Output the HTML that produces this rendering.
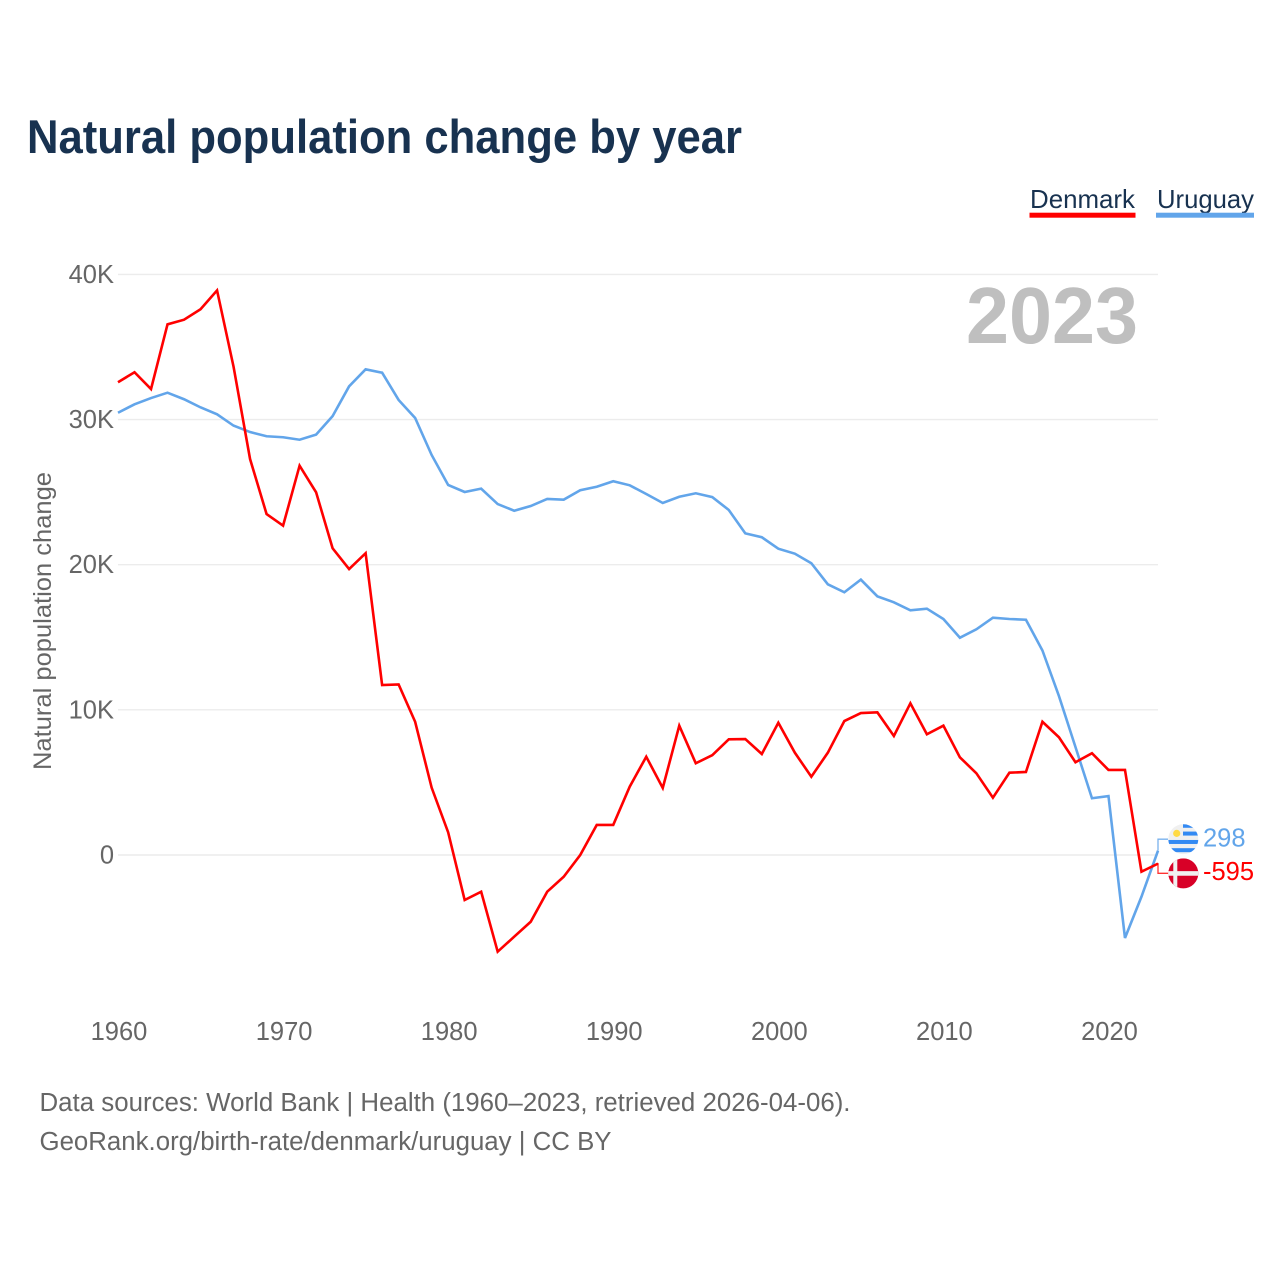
<!DOCTYPE html>
<html lang="en">
<head>
<meta charset="utf-8">
<title>Natural population change by year</title>
<style>
  html, body { margin: 0; padding: 0; background: #fff; }
  svg { display: block; font-family: "Liberation Sans", sans-serif; }
</style>
</head>
<body>
<svg id="chart" width="1280" height="1280" viewBox="0 0 1280 1280" xmlns="http://www.w3.org/2000/svg">
  <defs>
    <clipPath id="uy-clip"><circle cx="1183.3" cy="0" r="15" id="uy-clip-circle"></circle></clipPath>
    <clipPath id="dk-clip"><circle cx="1183.3" cy="0" r="15" id="dk-clip-circle"></circle></clipPath>
  </defs>
  <rect width="1280" height="1280" fill="#fff"></rect>
  <text x="27" y="153" font-size="47" font-weight="700" fill="#183250" textLength="715" lengthAdjust="spacingAndGlyphs">Natural population change by year</text>

  <g>
    <g>
      <text x="1030" y="208" font-size="26" fill="#183250" textLength="105" lengthAdjust="spacingAndGlyphs">Denmark</text>
      <rect x="1029.5" y="212.7" width="106" height="5" fill="#ff0000"></rect>
    </g>
    <g>
      <text x="1157" y="208" font-size="26" fill="#183250" textLength="97" lengthAdjust="spacingAndGlyphs">Uruguay</text>
      <rect x="1156" y="212.7" width="98" height="5" fill="#62a5ea"></rect>
    </g>
  </g>

  <g id="grid"></g>
  <g id="y-ticks"></g>
  <g id="x-ticks"></g>

  <text transform="translate(51,770) rotate(-90)" x="0" y="0" font-size="25" fill="#666666" textLength="298" lengthAdjust="spacingAndGlyphs">Natural population change</text>
  <text x="966" y="343" font-size="80" font-weight="700" fill="#bfbfbf" textLength="172" lengthAdjust="spacingAndGlyphs">2023</text>

  <g id="series"></g>
  <g id="end-labels"></g>

  <text x="39.5" y="1111" font-size="25.5" fill="#666666" textLength="811" lengthAdjust="spacingAndGlyphs">Data sources: World Bank | Health (1960–2023, retrieved 2026-04-06).</text>
  <text x="39.5" y="1150" font-size="25.5" fill="#666666" textLength="572" lengthAdjust="spacingAndGlyphs">GeoRank.org/birth-rate/denmark/uruguay | CC BY</text>
</svg>

<script>
// Values are natural population change in thousands of people, 1960–2023.
const startYear = 1960;
const endYear = 2023;
const denmarkValues = [
  32.57, 33.26, 32.10, 36.56, 36.88, 37.60, 38.90, 33.64, 27.28, 23.49,
  22.69, 26.82, 24.99, 21.13, 19.70, 20.79, 11.71, 11.75, 9.18, 4.64,
  1.56, -3.10, -2.53, -6.66, -5.63, -4.60, -2.53, -1.50, 0.00, 2.07,
  2.07, 4.71, 6.77, 4.62, 8.91, 6.32, 6.88, 7.97, 7.99, 6.96,
  9.11, 7.05, 5.39, 7.05, 9.23, 9.78, 9.83, 8.20, 10.45, 8.32,
  8.91, 6.73, 5.63, 3.95, 5.67, 5.72, 9.18, 8.11, 6.39, 7.01,
  5.86, 5.86, -1.15, -0.595
];
const uruguayValues = [
  30.47, 31.05, 31.48, 31.85, 31.40, 30.84, 30.36, 29.58, 29.14, 28.85,
  28.78, 28.61, 28.96, 30.24, 32.29, 33.46, 33.23, 31.35, 30.11, 27.56,
  25.49, 25.01, 25.24, 24.18, 23.72, 24.04, 24.53, 24.48, 25.13, 25.37,
  25.75, 25.47, 24.87, 24.25, 24.68, 24.92, 24.66, 23.77, 22.16, 21.89,
  21.10, 20.76, 20.10, 18.65, 18.10, 18.97, 17.82, 17.41, 16.86, 16.97,
  16.26, 14.97, 15.55, 16.35, 16.26, 16.21, 14.09, 10.95, 7.44, 3.91,
  4.06, -5.72, -2.87, 0.298
];
const yTickValues = [0, 10, 20, 30, 40];
const yTickLabels = ['0', '10K', '20K', '30K', '40K'];
const xTickYears = [1960, 1970, 1980, 1990, 2000, 2010, 2020];

const NS = 'http://www.w3.org/2000/svg';
function xScale(year) { return 118 + (year - startYear) * (1040 / (endYear - startYear)); }
function yScale(v) { return 855 - v * 14.515; }
function make(tag, attrs, parent, text) {
  const el = document.createElementNS(NS, tag);
  for (const k in attrs) el.setAttribute(k, attrs[k]);
  if (text !== undefined) el.textContent = text;
  parent.appendChild(el);
  return el;
}

const gridG = document.getElementById('grid');
const yG = document.getElementById('y-ticks');
yTickValues.forEach(function (v, i) {
  const y = yScale(v);
  const line = make('line', { x1: 118, x2: 1158, y1: y, y2: y, stroke: '#ececec', 'stroke-width': 1.4 }, gridG);
  
  
  const label = make('text', { x: 114, y: y + 8.4, 'text-anchor': 'end', 'font-size': 25.5, fill: '#666666' }, yG, yTickLabels[i]);
  
  
});

const xG = document.getElementById('x-ticks');
xTickYears.forEach(function (year) {
  const label = make('text', { x: xScale(year) + 1, y: 1040, 'text-anchor': 'middle', 'font-size': 25.5, fill: '#666666' }, xG, String(year));
  
  
});

function linePoints(values) {
  return values.map(function (v, i) {
    return xScale(startYear + i).toFixed(2) + ',' + yScale(v).toFixed(2);
  }).join(' ');
}
const seriesG = document.getElementById('series');
const uruguayLine = make('polyline', { points: linePoints(uruguayValues), fill: 'none', stroke: '#62a5ea', 'stroke-width': 2.6, 'stroke-linejoin': 'miter' }, seriesG);


const denmarkLine = make('polyline', { points: linePoints(denmarkValues), fill: 'none', stroke: '#ff0000', 'stroke-width': 2.6, 'stroke-linejoin': 'miter' }, seriesG);



// End-of-line labels with flags
const endG = document.getElementById('end-labels');
const lastX = xScale(endYear);
const uyLast = uruguayValues[uruguayValues.length - 1];
const dkLast = denmarkValues[denmarkValues.length - 1];
const uyEndY = yScale(uyLast);
const dkEndY = yScale(dkLast);
const uyLabelY = uyEndY - 11.5;
const dkLabelY = dkEndY + 9.7;

const uyConn = make('polyline', { points: lastX + ',' + uyEndY + ' ' + lastX + ',' + uyLabelY + ' 1168,' + uyLabelY, fill: 'none', stroke: '#62a5ea', 'stroke-width': 1.3, opacity: 0.85 }, endG);


const dkConn = make('polyline', { points: (lastX - 1.5) + ',' + dkEndY + ' ' + lastX + ',' + dkEndY + ' ' + lastX + ',' + dkLabelY + ' 1168,' + dkLabelY, fill: 'none', stroke: '#ff0000', 'stroke-width': 1.3, opacity: 0.8 }, endG);



// Uruguay flag
const uyCy = uyLabelY;
document.getElementById('uy-clip-circle').setAttribute('cy', uyCy);
const uyFlag = make('g', { 'clip-path': 'url(#uy-clip)' }, endG);


make('rect', { x: 1168, y: uyCy - 15, width: 31, height: 31, fill: '#f0f0f0' }, uyFlag);
make('rect', { x: 1183, y: uyCy - 15, width: 16, height: 3.6, fill: '#338af3' }, uyFlag);
make('rect', { x: 1183, y: uyCy - 7.6, width: 16, height: 4, fill: '#338af3' }, uyFlag);
make('rect', { x: 1168, y: uyCy + 0.8, width: 31, height: 4, fill: '#338af3' }, uyFlag);
make('rect', { x: 1168, y: uyCy + 9, width: 31, height: 4, fill: '#338af3' }, uyFlag);
make('circle', { cx: 1176.7, cy: uyCy - 5.8, r: 3.6, fill: '#ffda44' }, uyFlag);

// Denmark flag
const dkCy = dkLabelY;
document.getElementById('dk-clip-circle').setAttribute('cy', dkCy);
const dkFlag = make('g', { 'clip-path': 'url(#dk-clip)' }, endG);


make('rect', { x: 1168, y: dkCy - 15, width: 31, height: 31, fill: '#d80027' }, dkFlag);
make('rect', { x: 1173.3, y: dkCy - 15, width: 4, height: 31, fill: '#f0f0f0' }, dkFlag);
make('rect', { x: 1168, y: dkCy - 2.2, width: 31, height: 4.6, fill: '#f0f0f0' }, dkFlag);

const uyValueLabel = make('text', { x: 1203, y: uyLabelY + 7.5, 'font-size': 25.5, fill: '#62a5ea' }, endG, String(Math.round(uyLast * 1000)));


const dkValueLabel = make('text', { x: 1203, y: dkLabelY + 6.5, 'font-size': 25.5, fill: '#ff0000' }, endG, String(Math.round(dkLast * 1000)));


</script>
</body>
</html>
